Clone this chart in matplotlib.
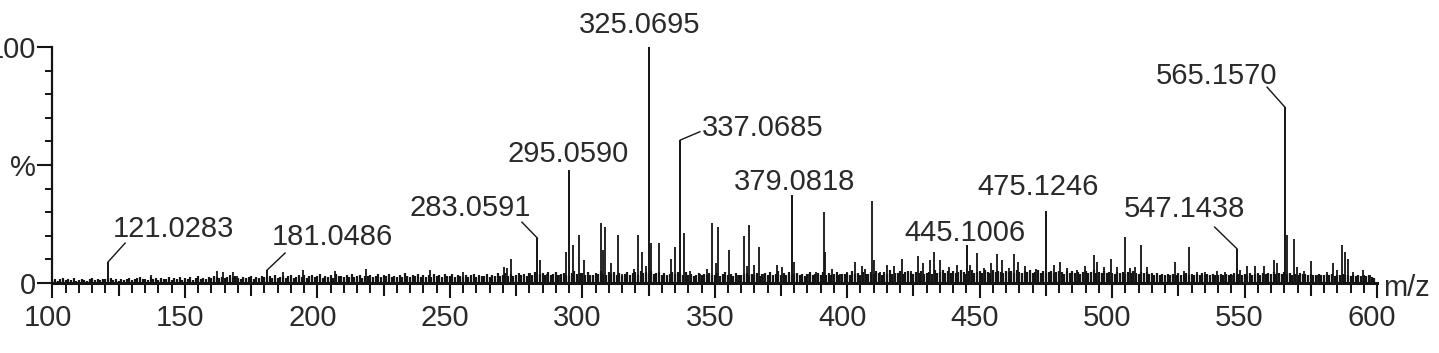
#!/usr/bin/env python3
# -*- coding: utf-8 -*-
"""
High-resolution MS spectrum (m/z 100-600), MassLynx-style stick plot.
Values read off the reference picture by eye.
"""
import numpy as np
import matplotlib
matplotlib.use('Agg')
import matplotlib.pyplot as plt
from matplotlib import transforms
from matplotlib.ticker import MultipleLocator

# --- baseline "grass", one value per integer m/z (100..599), in % ---
grass_100 = [1.2, 1.8, 1.0, 1.5, 2.1, 1.1, 1.6, 1.3, 2.2, 1.0,
             1.4, 1.9, 1.2, 1.0, 1.7, 2.0, 1.3, 1.5, 1.1, 1.8,
             1.6, 2.0, 2.3, 1.2, 1.5, 1.0, 1.9, 1.3, 1.7, 2.2,
             1.4, 1.8, 2.1, 2.5, 1.5, 1.9, 1.2, 2.4, 1.6, 2.0,
             1.3, 2.3, 1.7, 1.5, 2.4, 1.2, 2.0, 1.8, 2.6, 1.4]
grass_150 = [2.2, 1.6, 2.5, 1.4, 2.0, 2.8, 1.7, 2.3, 1.5, 2.6,
             2.1, 3.0, 2.4, 2.0, 2.6, 2.0, 2.6, 3.2, 2.4, 3.0,
             2.2, 1.8, 2.6, 2.0, 2.4, 2.9, 1.7, 2.5, 2.1, 3.1,
             2.6, 2.0, 2.8, 2.2, 3.4, 2.0, 2.6, 3.0, 2.3, 2.8,
             3.2, 2.1, 2.7, 3.6, 2.5, 3.3, 2.0, 2.8, 3.6, 2.4]
grass_200 = [2.9, 3.8, 2.3, 3.1, 2.6, 3.5, 2.2, 4.0, 2.8, 3.0,
             2.4, 3.2, 2.7, 3.8, 2.5, 2.9, 3.4, 2.2, 3.0, 2.9,
             3.5, 2.6, 3.0, 4.0, 2.5, 3.3, 2.8, 3.9, 2.4, 3.1,
             2.7, 3.6, 2.5, 4.1, 3.0, 2.6, 3.4, 2.8, 3.9, 2.5,
             3.2, 2.7, 3.5, 2.4, 3.8, 3.0, 3.4, 2.6, 3.7, 3.1]
grass_250 = [2.8, 3.9, 2.6, 3.3, 3.0, 2.5, 3.6, 2.7, 3.2, 4.0,
             2.6, 3.6, 3.0, 2.9, 4.0, 2.7, 3.5, 3.1, 4.3, 3.0,
             3.4, 4.2, 3.1, 3.8, 2.9, 3.6, 4.4, 3.2, 3.9, 3.0,
             4.1, 3.3, 4.6, 3.5, 3.9, 4.2, 3.4, 4.8, 3.6, 4.0,
             4.5, 3.2, 3.8, 4.4, 3.5, 3.0, 4.2, 5.0, 3.7, 4.1]
grass_300 = [4.2, 3.5, 4.6, 3.6, 3.2, 4.4, 3.7, 4.9, 4.0, 3.4,
             4.5, 3.8, 4.6, 3.5, 4.2, 3.1, 3.9, 4.7, 3.4, 4.3,
             4.8, 3.6, 5.0, 4.1, 4.5, 3.8, 4.9, 3.7, 4.4, 4.6,
             3.5, 4.1, 3.2, 3.8, 4.6, 4.0, 4.8, 4.3, 3.6, 4.7,
             3.4, 4.0, 3.1, 3.6, 4.2, 3.3, 3.8, 3.5, 4.4, 3.2]
grass_350 = [3.6, 4.2, 3.1, 3.8, 4.5, 3.3, 3.9, 3.0, 4.1, 3.5,
             3.2, 3.8, 4.4, 3.4, 4.0, 3.6, 4.3, 3.1, 3.7, 4.2,
             3.5, 4.6, 3.3, 3.9, 5.2, 3.6, 4.1, 3.4, 4.8, 3.2,
             3.8, 4.4, 3.5, 4.0, 3.1, 3.7, 4.5, 3.3, 3.9, 4.2,
             3.4, 4.7, 3.6, 4.1, 3.2, 3.9, 4.6, 3.5, 4.0, 3.7]
grass_400 = [4.3, 3.6, 4.9, 3.8, 4.4, 3.5, 4.8, 4.0, 3.7, 4.5,
             3.9, 5.1, 4.2, 3.6, 4.7, 4.0, 5.3, 3.8, 4.4, 4.1,
             4.9, 3.7, 4.5, 5.0, 4.2, 3.9, 4.6, 4.1, 5.2, 3.8,
             4.4, 4.8, 4.0, 5.4, 4.3, 4.7, 5.6, 4.1, 4.9, 4.4,
             5.1, 4.2, 4.8, 5.5, 4.5, 4.0, 4.9, 5.3, 4.3, 4.7]
grass_450 = [5.0, 4.4, 5.6, 4.6, 4.2, 5.3, 4.8, 5.0, 4.5, 4.1,
             5.2, 4.6, 4.9, 4.3, 5.4, 4.7, 4.4, 5.1, 4.6, 5.5,
             4.2, 4.8, 5.3, 4.4, 4.9, 4.1, 4.6, 5.0, 4.3, 4.8,
             5.2, 4.5, 4.0, 4.9, 4.4, 5.1, 4.2, 4.7, 4.0, 4.5,
             4.9, 4.2, 4.6, 5.3, 4.4, 4.8, 4.1, 5.0, 4.3, 4.7]
grass_500 = [4.4, 4.0, 4.8, 4.2, 4.6, 3.9, 4.5, 4.1, 4.9, 4.3,
             3.8, 4.6, 4.2, 4.7, 3.9, 4.4, 3.6, 4.1, 3.5, 3.9,
             3.3, 3.8, 3.4, 4.0, 3.6, 4.3, 3.5, 3.9, 4.2, 3.4,
             3.7, 3.2, 3.9, 3.5, 4.1, 3.3, 3.8, 3.4, 3.9, 3.2,
             3.6, 4.0, 3.4, 3.8, 3.3, 3.7, 4.1, 3.5, 3.9, 3.6]
grass_550 = [3.8, 3.4, 4.2, 3.5, 3.9, 4.4, 3.6, 4.1, 3.7, 4.3,
             3.9, 4.5, 3.7, 4.2, 3.8, 4.6, 3.9, 4.4, 3.6, 4.0,
             3.5, 4.1, 3.7, 3.9, 3.4, 4.0, 3.6, 3.3, 3.8, 3.5,
             3.2, 3.7, 3.4, 3.9, 3.1, 3.6, 3.3, 3.8, 3.2, 3.5,
             3.0, 3.4, 3.1, 3.6, 2.9, 3.2, 2.8, 3.3, 2.6, 2.2]

# --- individual peaks that stand above the grass (m/z, %) ---
peak_mz = [133.0, 137.0, 162.0, 164.5, 168.0, 169.5, 187.0, 194.5, 206.5,
           218.5, 242.4, 254.9, 270.3, 271.6, 273.1, 280.4, 284.2, 286.7,
           291.1, 294.0, 296.5, 298.6, 300.5, 307.2, 308.0, 308.7, 310.9,
           313.4, 315.1, 319.5, 321.1, 322.6, 323.9, 326.1, 328.9, 330.8,
           333.6, 335.1, 338.5, 340.8, 344.5, 347.1, 349.0, 350.3, 351.1,
           355.3, 358.5, 361.0, 362.3, 362.9, 364.8, 366.7, 368.5, 373.5,
           375.5, 380.1, 382.4, 385.5, 388.4, 391.1, 391.8, 394.3, 397.4,
           400.0, 403.1, 405.6, 406.9, 409.2, 410.0, 412.5, 415.0, 417.6,
           420.7, 423.9, 426.9, 428.8, 431.3, 432.9, 435.2, 438.3, 441.5,
           446.5, 449.0, 451.5, 454.1, 456.6, 458.5, 461.0, 462.9, 464.4,
           467.3, 471.1, 478.0, 480.4, 483.0, 486.7, 489.9, 493.0, 494.3,
           496.8, 499.4, 501.9, 504.8, 506.9, 508.8, 511.0, 513.2, 515.1,
           523.8, 527.0, 528.9, 532.1, 535.2, 539.6, 542.8, 545.3, 548.3,
           551.0, 554.1, 557.2, 561.2, 562.2, 566.2, 568.8, 569.8, 572.3,
           575.2, 577.9, 581.0, 583.3, 584.8, 586.7, 587.9, 589.2, 591.1,
           594.9, 597.4]
peak_int = [2.5, 3.4, 5.0, 4.5, 4.5, 3.0, 4.7, 5.5, 5.2,
            5.8, 5.5, 4.7, 6.9, 6.5, 10.0, 4.1, 9.7, 4.0,
            3.5, 13.3, 16.0, 20.3, 9.7, 25.3, 14.0, 23.9, 8.4,
            20.3, 4.0, 6.0, 20.3, 13.3, 7.0, 16.8, 17.0, 3.5,
            10.0, 15.1, 21.3, 5.0, 4.0, 6.0, 25.5, 8.4, 23.9,
            14.0, 3.5, 19.9, 7.0, 24.6, 7.8, 15.1, 4.0, 7.8,
            6.8, 9.0, 3.5, 4.0, 4.8, 30.2, 13.3, 6.0, 4.0,
            4.5, 9.0, 7.0, 6.0, 34.9, 9.7, 4.5, 7.8, 7.0,
            10.0, 5.0, 11.4, 8.4, 9.7, 13.3, 9.7, 6.8, 7.6,
            7.6, 12.6, 6.4, 8.5, 12.3, 9.7, 6.4, 12.3, 9.0,
            7.3, 5.9, 7.6, 9.0, 6.4, 5.3, 7.3, 11.9, 9.0,
            6.8, 10.0, 6.8, 19.3, 6.4, 6.8, 16.1, 6.8, 4.0,
            9.0, 5.0, 15.4, 4.5, 4.5, 5.0, 4.5, 3.5, 5.5,
            7.2, 7.2, 7.2, 9.7, 8.5, 20.3, 18.5, 6.8, 5.0,
            9.5, 3.5, 4.5, 8.5, 5.5, 16.1, 13.0, 10.0, 4.5,
            5.3, 3.5]

# --- labelled peaks (m/z, %) ---
label_mz = [121.0283, 181.0486, 283.0591, 295.0590, 325.0695, 337.0685,
            379.0818, 445.1006, 475.1246, 547.1438, 565.1570]
label_int = [9.0, 5.5, 19.0, 48.0, 100.0, 60.6, 37.3, 16.0, 30.5, 14.5, 74.6]

# label placement: (text x, text baseline y, leader end or None)
LABEL_POS = [
    (145.6, 19.7, (127.4, 16.9)),
    (205.5, 15.9, (187.8, 12.7)),
    (257.6, 28.6, (277.2, 25.8)),
    (294.6, 51.1, None),
    (321.8, 106.1, None),
    (368.0, 62.5, (344.4, 64.1)),
    (380.3, 39.2, None),
    (444.5, 18.0, None),
    (472.0, 37.1, None),
    (527.5, 27.8, (538.7, 23.7)),
    (539.6, 84.5, (558.5, 83.0)),
]

INK = '#141414'
TXT = '#2a2a2a'
FONT = 'Liberation Sans'
FS = 21


def main():
    plt.rcParams['font.family'] = [FONT, 'DejaVu Sans']

    grass = np.concatenate([grass_100, grass_150, grass_200, grass_250, grass_300,
                            grass_350, grass_400, grass_450, grass_500, grass_550])
    grass_mz = np.arange(100, 100 + len(grass))

    fig = plt.figure(figsize=(14.39, 3.53), dpi=100)
    W, H = 1439.0, 353.0
    ax = fig.add_axes([52.5 / W, 70 / H, (1377 - 52.5) / W, 236 / H])

    # dense grass -> near-solid black band on the baseline
    ax.vlines(grass_mz, 0, grass, colors=INK, lw=1.6)
    ax.vlines(peak_mz, 0, peak_int, colors=INK, lw=1.3)
    ax.vlines(label_mz, 0, label_int, colors=INK, lw=1.4)

    for mz, h, (tx, ty, lead) in zip(label_mz, label_int, LABEL_POS):
        ax.text(tx, ty, f"{mz:.4f}", ha='center', va='baseline', fontsize=FS,
                color=TXT, clip_on=False)
        if lead is not None:
            ax.plot([mz, lead[0]], [h, lead[1]], color=INK, lw=1.0, clip_on=False)

    ax.set_xlim(100, 600)
    ax.set_ylim(0, 100)

    # x ticks: long every 50, medium at 25, short every 5
    xt = np.arange(100, 601, 25)
    ax.set_xticks(xt, [str(v) if v % 50 == 0 else '' for v in xt])
    ax.xaxis.set_minor_locator(MultipleLocator(5))
    ax.tick_params(axis='x', which='major', direction='out', length=11, width=1.5,
                   color=INK, labelsize=FS, labelcolor=TXT, pad=4)
    ax.tick_params(axis='x', which='minor', direction='out', length=7, width=1.4,
                   color=INK)
    for v, tk in zip(xt, ax.xaxis.get_major_ticks()):
        if v % 50:
            tk.tick1line.set_markersize(9)
    shift = transforms.ScaledTranslation(-0.05, 0, fig.dpi_scale_trans)
    for lab in ax.get_xticklabels():
        lab.set_transform(lab.get_transform() + shift)

    ax.set_yticks([0, 50, 100], ['0', '%', '100'])
    ax.yaxis.set_minor_locator(MultipleLocator(10))
    ax.tick_params(axis='y', which='major', direction='out', length=11, width=1.5,
                   color=INK, labelsize=FS, labelcolor=TXT, pad=1)
    ax.tick_params(axis='y', which='minor', direction='out', length=5, width=1.4,
                   color=INK)

    for s in ('top', 'right'):
        ax.spines[s].set_visible(False)
    ax.spines['bottom'].set_linewidth(2.2)
    ax.spines['left'].set_linewidth(1.6)
    ax.spines['bottom'].set_color(INK)
    ax.spines['left'].set_color(INK)

    ax.text(602.3, -5.5, 'm/z', ha='left', va='baseline', fontsize=FS,
            color=TXT, clip_on=False)

    fig.savefig('out.png', dpi=100)
    plt.close(fig)


if __name__ == "__main__":
    main()
